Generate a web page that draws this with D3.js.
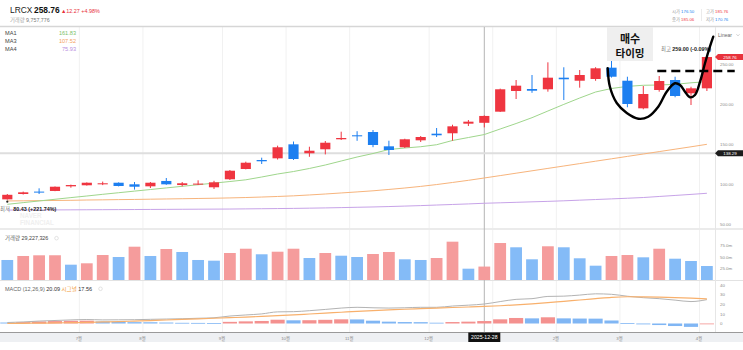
<!DOCTYPE html>
<html>
<head>
<meta charset="utf-8">
<script src="https://cdn.jsdelivr.net/npm/d3@7"></script>
<style>
  body { margin: 0; background: #fff; }
  svg { display: block; font-family: "Liberation Sans", "Noto Sans CJK KR", sans-serif; }
</style>
</head>
<body>
<script>
// weekly candles, LRCX
const weeks = [
  "2025-06-01","2025-06-08","2025-06-15","2025-06-22","2025-06-29","2025-07-06","2025-07-13","2025-07-20","2025-07-27",
  "2025-08-03","2025-08-10","2025-08-17","2025-08-24","2025-08-31","2025-09-07","2025-09-14","2025-09-21","2025-09-28",
  "2025-10-05","2025-10-12","2025-10-19","2025-10-26","2025-11-02","2025-11-09","2025-11-16","2025-11-23","2025-11-30",
  "2025-12-07","2025-12-14","2025-12-21","2025-12-28","2026-01-04","2026-01-11","2026-01-18","2026-01-25","2026-02-01",
  "2026-02-08","2026-02-15","2026-02-22","2026-03-01","2026-03-08","2026-03-15","2026-03-22","2026-03-29","2026-04-05"
];
const open  = [80.8,87.5,90.5,91.3,97.1,98.4,99.6,101.6,99.6,97.1,103.8,98.7,99.6,95.9,105.9,118.75,130.0,132.1,149.6,138.4,143.4,155.9,160.9,165.0,147.1,145.9,154.6,162.9,163.4,175.4,176.5,190.4,216.25,218.75,218.4,232.9,229.1,231.25,245.4,229.1,194.6,217.5,230.0,213.4,219.6];
const high  = [87.5,90.5,94.6,96.9,99.2,102.0,103.0,102.0,102.5,102.5,107.5,102.5,104.6,104.0,117.5,127.9,132.9,147.9,153.1,146.6,153.75,165.4,166.0,167.5,154.1,156.6,160.0,170.0,174.1,180.0,185.76,219.2,230.0,236.25,252.1,245.9,242.5,246.0,255.9,234.1,222.5,235.0,234.1,221.6,259.0];
const low   = [80.43,86.8,87.5,91.0,95.4,98.0,98.6,97.0,93.0,95.0,99.0,97.0,98.7,93.8,105.0,118.3,125.0,130.6,130.0,134.0,137.0,155.0,154.0,146.0,136.25,145.0,152.5,158.75,154.1,172.5,170.76,190.0,206.25,214.0,215.4,205.0,220.4,229.0,233.0,195.9,193.4,215.4,208.4,198.75,216.25];
const close = [86.5,89.6,90.0,96.6,98.7,101.6,100.9,97.5,96.6,101.6,99.6,100.9,100.5,102.1,116.6,126.6,128.4,145.9,131.25,141.6,151.6,157.5,159.6,148.75,142.5,155.9,158.75,160.9,172.1,177.9,185.06,218.4,222.9,216.6,232.9,230.9,236.25,244.6,234.1,200.0,212.5,228.75,210.0,219.6,258.76];

// volume, millions of shares
const volume = [43.5,52.2,53.7,53.8,33.3,36.3,54.3,50.0,72.4,52.2,67.4,60.9,43.5,42.0,58.7,68.0,55.9,61.5,68.0,47.8,58.7,52.8,50.0,56.5,60.9,45.0,43.5,47.8,83.3,24.6,29.2,80.4,71.1,45.0,73.3,71.1,47.2,31.1,52.2,54.3,49.3,68.0,46.3,41.3,30.4];

// moving averages
const ma1 = [74.6,76.7,78.8,80.9,83.0,85.0,87.1,89.1,91.1,93.1,95.1,97.1,99.1,101.1,103.1,105.25,108.75,112.5,115.6,119.4,123.75,128.75,133.75,138.1,143.1,145.0,146.6,149.1,154.4,158.1,161.83,168.75,175.6,182.9,191.25,199.5,207.5,215.0,219.4,222.0,223.4,223.75,224.6,226.5,227.9];
const ma3 = [78.8,79.0,79.2,79.4,79.6,80.0,80.2,80.5,80.7,81.0,81.3,81.6,81.9,82.2,82.6,83.1,83.7,84.4,85.2,86.3,87.5,88.8,90.1,91.5,93.2,95.0,97.0,99.3,101.9,104.6,107.52,110.5,113.5,116.5,119.5,122.5,125.5,128.5,131.5,134.5,137.5,140.5,143.5,146.5,149.6];
const ma4 = [67.4,67.5,67.5,67.6,67.7,67.8,67.9,68.0,68.1,68.2,68.3,68.4,68.5,68.6,68.7,68.9,69.1,69.3,69.5,69.8,70.1,70.5,70.9,71.3,71.8,72.4,73.0,73.7,74.4,75.1,75.93,76.5,77.1,77.7,78.3,79.0,79.8,80.6,81.4,82.2,83.1,84.4,85.7,87.0,88.4];

// MACD (12,26,9)
const macd   = [1.0,1.6,2.5,3.1,3.7,4.1,3.7,3.8,3.9,4.3,4.6,4.9,5.4,5.9,7.7,8.8,9.9,12.0,12.2,13.2,14.5,15.9,16.7,16.2,15.9,16.2,16.7,16.7,18.0,18.9,20.09,22.6,24.9,25.6,27.9,28.2,29.3,30.6,30.1,28.1,26.6,25.6,24.1,22.6,24.6];
const signal = [0.0,0.2,0.4,0.6,0.9,1.2,1.6,2.0,2.5,3.0,3.6,4.2,4.8,5.4,6.0,6.6,7.3,8.1,8.9,9.8,10.7,11.6,12.5,13.3,14.0,14.7,15.3,15.9,16.5,17.0,17.56,18.3,19.2,20.3,21.5,22.9,24.2,25.6,27.0,27.6,27.5,27.2,26.7,26.1,25.4];
const hist   = [1.0,1.4,2.1,2.5,2.8,2.9,2.1,1.8,1.4,1.3,1.0,0.7,0.6,0.5,1.7,2.2,2.6,3.9,3.3,3.4,3.8,4.3,4.2,2.9,1.9,1.5,1.4,0.8,1.5,1.9,2.53,4.3,5.7,5.3,6.4,5.3,5.1,5.0,3.1,0.5,-0.9,-1.6,-2.6,-3.5,-0.8];

// axis ticks
const priceTicks = [50, 100, 150, 200, 250];
const volTicks = [25, 50, 75];
const macdTicks = [0, 10, 20, 30, 40];
const monthTicks = [
  ["2025-07-06","7월"],["2025-08-03","8월"],["2025-09-07","9월"],["2025-10-05","10월"],["2025-11-02","11월"],
  ["2025-12-07","12월"],["2026-01-04","1월"],["2026-02-01","2월"],["2026-03-01","3월"],["2026-04-05","4월"]
];

// hand drawn note: [week index, price]
const notePath = [[37.76,244.6],[37.9,221.6],[38.33,201.25],[38.96,188.75],[39.69,181.6],[40.31,184.1],[40.94,196.6],[41.47,215.4],[41.99,225.9],[42.31,223.75],[42.62,215.4],[42.94,208.4],[43.25,211.25],[43.57,227.9],[43.88,250.9],[44.19,271.6],[44.4,284.1]];
const noteLevel = [[40.88, 241.25], [45.75, 241.25]];

const crossIdx = 30;
const crossPrice = 138.29;

const W = 743, H = 350, plotR = 715;
const red = "#ef3540", blue = "#1d7ff0";
const lightRed = "#f59c9c", lightBlue = "#84bbf7";

const svg = d3.select("body").append("svg").attr("width", W).attr("height", H);

const x = d3.scaleBand().domain(weeks).range([-0.65, 714.85]);
const bw = x.bandwidth();
const cx = i => x(weeks[i]) + bw / 2;
const xi = d3.scaleLinear().domain([0, weeks.length - 1]).range([cx(0), cx(weeks.length - 1)]);

const y = d3.scaleLinear().domain([0, 250]).range([264, 64]);
const yv = d3.scaleLinear().domain([0, 75]).range([280, 245.5]);
const ym = d3.scaleLinear().domain([0, 40]).range([323.5, 284.7]);

// panel frames
svg.append("rect").attr("x", 0).attr("y", 333).attr("width", W).attr("height", 9).attr("fill", "#eef0f3");

const grid = svg.append("g");
monthTicks.forEach(([d]) => {
  grid.append("line").attr("x1", x(d) + 0.5).attr("x2", x(d) + 0.5)
    .attr("y1", 27).attr("y2", 332).attr("stroke", "#f1f1f1");
});
svg.append("line").attr("x1", 0).attr("x2", W).attr("y1", 26.5).attr("y2", 26.5).attr("stroke", "#d6d6d6").attr("stroke-width", 1.5);
svg.append("line").attr("x1", 0).attr("x2", W).attr("y1", 229).attr("y2", 229).attr("stroke", "#ebebeb").attr("stroke-width", 2);
svg.append("line").attr("x1", 0).attr("x2", W).attr("y1", 280.5).attr("y2", 280.5).attr("stroke", "#e2e2e2");
svg.append("line").attr("x1", 0).attr("x2", W).attr("y1", 332.5).attr("y2", 332.5).attr("stroke", "#9a9a9a");
svg.append("line").attr("x1", plotR + 0.5).attr("x2", plotR + 0.5).attr("y1", 27).attr("y2", 332).attr("stroke", "#e6e6e6");

// crosshair
svg.append("line").attr("x1", cx(crossIdx)).attr("x2", cx(crossIdx)).attr("y1", 27).attr("y2", 333)
  .attr("stroke", "#b4b4b4");
svg.append("line").attr("x1", 0).attr("x2", plotR).attr("y1", y(crossPrice)).attr("y2", y(crossPrice))
  .attr("stroke", "#dedede").attr("stroke-width", 2);

// watermark
svg.append("text").attr("x", 20).attr("y", 217.6).attr("font-size", 6.3).attr("font-weight", "bold").attr("fill", "#efefef").text("NAVER");
svg.append("text").attr("x", 20).attr("y", 224.6).attr("font-size", 6.3).attr("font-weight", "bold").attr("fill", "#efefef").text("FINANCIAL");

// main panel
svg.append("clipPath").attr("id", "mainClip").append("rect")
  .attr("x", 0).attr("y", 27).attr("width", plotR).attr("height", 201);
const main = svg.append("g").attr("clip-path", "url(#mainClip)");

const maLine = d3.line().x((d, i) => cx(i)).y(d => y(d));
[[ma4, "#c7a3e8"], [ma3, "#f7b47c"], [ma1, "#9fd68c"]].forEach(([s, c]) => {
  main.append("path").attr("d", maLine(s)).attr("fill", "none").attr("stroke", c).attr("stroke-width", 1);
});

const candles = main.selectAll("g.candle").data(weeks).join("g").attr("class", "candle");
candles.append("line")
  .attr("x1", (d, i) => cx(i)).attr("x2", (d, i) => cx(i))
  .attr("y1", (d, i) => y(high[i])).attr("y2", (d, i) => y(low[i]))
  .attr("stroke", (d, i) => close[i] >= open[i] ? red : blue).attr("stroke-width", 1);
candles.append("rect")
  .attr("x", (d, i) => cx(i) - bw * 0.32).attr("width", bw * 0.64)
  .attr("y", (d, i) => y(Math.max(open[i], close[i])))
  .attr("height", (d, i) => Math.max(1, Math.abs(y(open[i]) - y(close[i]))))
  .attr("fill", (d, i) => close[i] >= open[i] ? red : blue);

// lowest marker
svg.append("circle").attr("cx", cx(0)).attr("cy", y(d3.min(low)) + 2).attr("r", 1.1).attr("fill", "#222");
svg.append("text").attr("x", 0).attr("y", 211.3).attr("font-size", 5.4).attr("fill", "#777").text("최저");
svg.append("text").attr("x", 13.3).attr("y", 211.3).attr("font-size", 5.4).attr("fill", "#222")
  .attr("font-weight", "bold").text("80.43 (+221.74%)");

// price axis
const pAxis = svg.append("g").attr("transform", `translate(${plotR + 2},0)`)
  .call(d3.axisRight(y).tickValues(priceTicks).tickFormat(d3.format(".2f")).tickSize(0).tickPadding(3));
pAxis.select(".domain").remove();
pAxis.selectAll("text").attr("font-size", 4.4).attr("fill", "#8a8a8a").attr("font-family", null);

// MA legend
const legend = [["MA1", ma1[crossIdx], "#7cc26a"], ["MA3", ma3[crossIdx], "#f4a35f"], ["MA4", ma4[crossIdx], "#b88ee0"]];
legend.forEach(([n, v, c], k) => {
  svg.append("text").attr("x", 5).attr("y", 35.3 + k * 7.7).attr("font-size", 5.6).attr("fill", "#444").text(n);
  svg.append("text").attr("x", 76).attr("y", 35.3 + k * 7.7).attr("font-size", 5.6).attr("fill", c)
    .attr("text-anchor", "end").text(d3.format(".2f")(v));
});

// volume panel
svg.append("g").selectAll("rect").data(volume).join("rect")
  .attr("x", (d, i) => cx(i) - bw * 0.37).attr("width", bw * 0.74)
  .attr("y", d => yv(d)).attr("height", d => yv(0) - yv(d))
  .attr("fill", (d, i) => i > 0 && d >= volume[i - 1] ? lightRed : lightBlue);
const vAxis = svg.append("g").attr("transform", `translate(${plotR + 2},0)`)
  .call(d3.axisRight(yv).tickValues(volTicks).tickFormat(d => d3.format(".1f")(d) + "m").tickSize(0).tickPadding(3));
vAxis.select(".domain").remove();
vAxis.selectAll("text").attr("font-size", 4.4).attr("fill", "#8a8a8a").attr("font-family", null);
const vTitle = svg.append("text").attr("x", 5).attr("y", 240).attr("font-size", 5.4);
vTitle.append("tspan").attr("fill", "#666").text("거래량 ");
vTitle.append("tspan").attr("fill", "#444").text("29,227,326");
svg.append("circle").attr("cx", 56.5).attr("cy", 238.2).attr("r", 1.8).attr("fill", "none").attr("stroke", "#d0d0d0").attr("stroke-width", 0.6);

// MACD panel
svg.append("g").selectAll("rect").data(hist).join("rect")
  .attr("x", (d, i) => cx(i) - bw * 0.445).attr("width", bw * 0.89)
  .attr("y", d => ym(Math.max(0, d))).attr("height", d => Math.max(0.8, Math.abs(ym(d) - ym(0))))
  .attr("fill", (d, i) => i > 0 && d >= hist[i - 1] ? "#f4918f" : "#80b6f4");
const mLine = d3.line().x((d, i) => cx(i)).y(d => ym(d)).curve(d3.curveMonotoneX);
svg.append("path").attr("d", mLine(macd)).attr("fill", "none").attr("stroke", "#b3b3b3").attr("stroke-width", 1);
svg.append("path").attr("d", mLine(signal)).attr("fill", "none").attr("stroke", "#f8b06c").attr("stroke-width", 1.2);
const mAxis = svg.append("g").attr("transform", `translate(${plotR + 2},0)`)
  .call(d3.axisRight(ym).tickValues(macdTicks).tickSize(0).tickPadding(3));
mAxis.select(".domain").remove();
mAxis.selectAll("text").attr("font-size", 4.4).attr("fill", "#8a8a8a").attr("font-family", null);
const mTitle = svg.append("text").attr("x", 5).attr("y", 290.7).attr("font-size", 5.5);
mTitle.append("tspan").attr("fill", "#666").text("MACD (12,26,9) ");
mTitle.append("tspan").attr("fill", "#333").text(d3.format(".2f")(macd[crossIdx]) + " ");
mTitle.append("tspan").attr("fill", "#f29a3a").text("시그널 ");
mTitle.append("tspan").attr("fill", "#333").text(d3.format(".2f")(signal[crossIdx]));
svg.append("circle").attr("cx", 100.5).attr("cy", 288.8).attr("r", 1.8).attr("fill", "none").attr("stroke", "#d0d0d0").attr("stroke-width", 0.6);

// month axis (the label under the crosshair date box is hidden)
svg.append("g").selectAll("text")
  .data(monthTicks.filter(d => Math.abs(x(d[0]) - cx(crossIdx)) > 20)).join("text")
  .attr("x", d => x(d[0])).attr("y", 339.6).attr("text-anchor", "middle")
  .attr("font-size", 4.3).attr("fill", "#8a8a8a").text(d => d[1]);
svg.append("rect").attr("x", cx(crossIdx) - 16).attr("y", 332.5).attr("width", 32).attr("height", 9.5).attr("fill", "#111");
svg.append("text").attr("x", cx(crossIdx)).attr("y", 339.4).attr("text-anchor", "middle")
  .attr("font-size", 5.2).attr("fill", "#fff").text(weeks[crossIdx]);

// price tags on the axis
function tag(price, color, label) {
  const ty = y(price);
  svg.append("path").attr("d", `M${plotR},${ty} L${plotR + 3},${ty - 3} L${W},${ty - 3} L${W},${ty + 3} L${plotR + 3},${ty + 3} Z`)
    .attr("fill", color);
  svg.append("text").attr("x", plotR + 15).attr("y", ty + 1.6).attr("text-anchor", "middle")
    .attr("font-size", 4.4).attr("fill", "#fff").text(label);
}
tag(close[close.length - 1], "#e8323c", "258.76");
tag(crossPrice, "#1c1c1c", "138.29");

// Linear selector
svg.append("text").attr("x", 718).attr("y", 36.7).attr("font-size", 5).attr("fill", "#666").text("Linear");
svg.append("path").attr("d", "M736.5,34.3 L738,35.8 L739.5,34.3").attr("fill", "none").attr("stroke", "#999").attr("stroke-width", 0.5);

// highest label
const hiTxt = svg.append("text").attr("x", 711).attr("y", 50.7).attr("font-size", 5.4).attr("text-anchor", "end");
hiTxt.append("tspan").attr("fill", "#777").text("최고 ");
hiTxt.append("tspan").attr("fill", "#222").attr("font-weight", "bold").text("259.00 (-0.09%)");

// header
svg.append("text").attr("x", 10).attr("y", 13.4).attr("font-size", 8.4).attr("fill", "#222").text("LRCX");
svg.append("text").attr("x", 34).attr("y", 13.4).attr("font-size", 8.4).attr("font-weight", "bold").attr("fill", "#111").text("258.76");
svg.append("text").attr("x", 61).attr("y", 12.8).attr("font-size", 5.4).attr("fill", "#e8313a").text("▲12.27 +4.98%");
const volHdr = svg.append("text").attr("x", 10).attr("y", 22).attr("font-size", 5.3);
volHdr.append("tspan").attr("fill", "#aaa").text("거래량 ");
volHdr.append("tspan").attr("fill", "#777").text("9,757,776");

const ohlc = [["시가", open[crossIdx], blue, 672, 12.5], ["고가", high[crossIdx], red, 706, 12.5],
              ["종가", close[crossIdx], red, 672, 20.5], ["저가", low[crossIdx], blue, 706, 20.5]];
ohlc.forEach(([n, v, c, tx, ty]) => {
  const t = svg.append("text").attr("x", tx).attr("y", ty).attr("font-size", 4.3);
  t.append("tspan").attr("fill", "#999").text(n + " ");
  t.append("tspan").attr("fill", c).text(d3.format(".2f")(v));
});
svg.append("line").attr("x1", 701.5).attr("x2", 701.5).attr("y1", 9).attr("y2", 21).attr("stroke", "#ddd").attr("stroke-width", 0.6);

// hand-written annotation
svg.append("rect").attr("x", 607).attr("y", 27).attr("width", 46).attr("height", 34).attr("fill", "#efefef");
svg.append("text").attr("x", 630).attr("y", 43).attr("text-anchor", "middle").attr("font-size", 11)
  .attr("font-weight", "bold").attr("fill", "#111").text("매수");
svg.append("text").attr("x", 630).attr("y", 57).attr("text-anchor", "middle").attr("font-size", 10.5)
  .attr("font-weight", "bold").attr("fill", "#111").text("타이밍");

const noteLine = d3.line().x(d => xi(d[0])).y(d => y(d[1])).curve(d3.curveCatmullRom.alpha(0.5));
svg.append("path").attr("d", noteLine(notePath)).attr("fill", "none").attr("stroke", "#000")
  .attr("stroke-width", 2.4).attr("stroke-linecap", "round").attr("stroke-linejoin", "round");
svg.append("path").attr("d", d3.line().x(d => xi(d[0])).y(d => y(d[1]))(noteLevel))
  .attr("fill", "none").attr("stroke", "#000").attr("stroke-width", 2.4).attr("stroke-dasharray", "9,5");
</script>
</body>
</html>
